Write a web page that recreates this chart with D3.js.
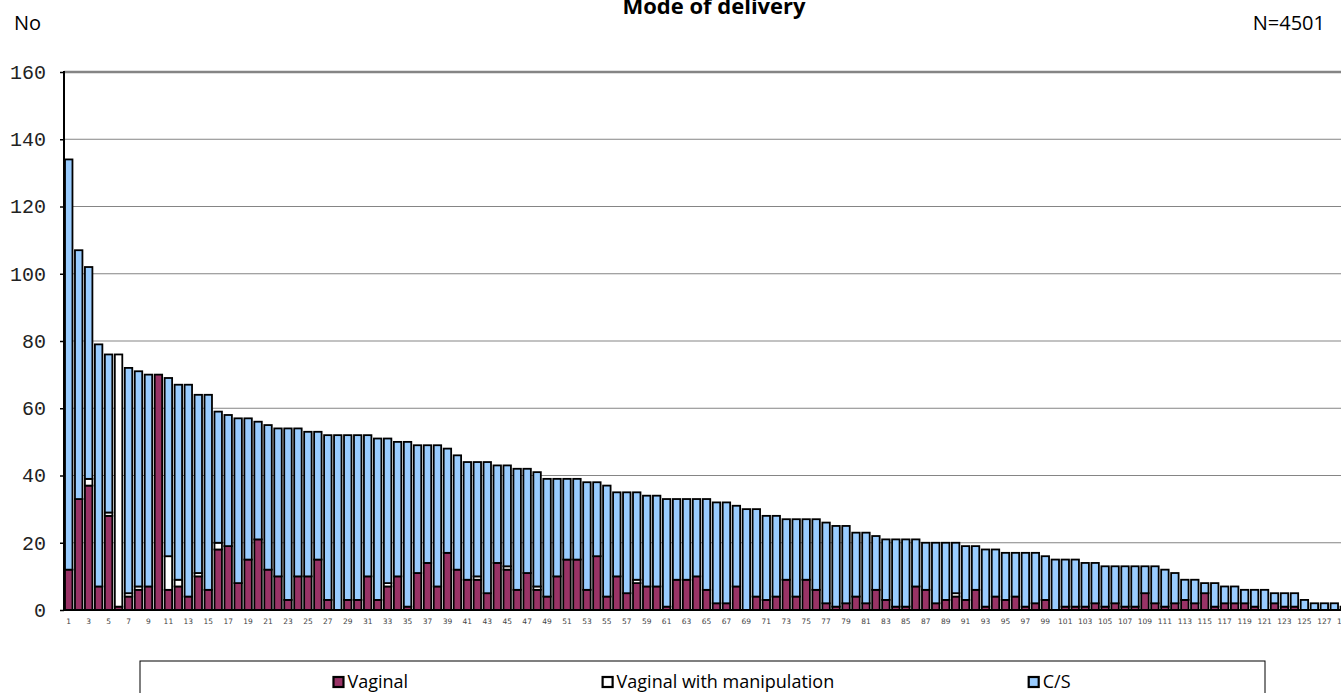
<!DOCTYPE html>
<html>
<head>
<meta charset="utf-8">
<script src="https://cdn.jsdelivr.net/npm/d3@7/dist/d3.min.js"></script>
<style>
  body { margin: 0; overflow: hidden; background: #fff; }
  svg { display: block; }
</style>
</head>
<body>
<div id="chart"></div>
<script>
// bar number 1..129
var categories = d3.range(1, 130);

var vaginal = [12, 33, 37, 7, 28, 1, 4, 6, 7, 70,
  6, 7, 4, 10, 6, 18, 19, 8, 15, 21,
  12, 10, 3, 10, 10, 15, 3, 0, 3, 3,
  10, 3, 7, 10, 1, 11, 14, 7, 17, 12,
  9, 9, 5, 14, 12, 6, 11, 6, 4, 10,
  15, 15, 6, 16, 4, 10, 5, 8, 7, 7,
  1, 9, 9, 10, 6, 2, 2, 7, 0, 4,
  3, 4, 9, 4, 9, 6, 2, 1, 2, 4,
  2, 6, 3, 1, 1, 7, 6, 2, 3, 4,
  3, 6, 1, 4, 3, 4, 1, 2, 3, 0,
  1, 1, 1, 2, 1, 2, 1, 1, 5, 2,
  1, 2, 3, 2, 5, 1, 2, 2, 2, 1,
  0, 2, 1, 1, 0, 0, 0, 0, 0];

var manipulation = [0, 0, 2, 0, 1, 75, 1, 1, 0, 0,
  10, 2, 0, 1, 0, 2, 0, 0, 0, 0,
  0, 0, 0, 0, 0, 0, 0, 0, 0, 0,
  0, 0, 1, 0, 0, 0, 0, 0, 0, 0,
  0, 1, 0, 0, 1, 0, 0, 1, 0, 0,
  0, 0, 0, 0, 0, 0, 0, 1, 0, 0,
  0, 0, 0, 0, 0, 0, 0, 0, 0, 0,
  0, 0, 0, 0, 0, 0, 0, 0, 0, 0,
  0, 0, 0, 0, 0, 0, 0, 0, 0, 1,
  0, 0, 0, 0, 0, 0, 0, 0, 0, 0,
  0, 0, 0, 0, 0, 0, 0, 0, 0, 0,
  0, 0, 0, 0, 0, 0, 0, 0, 0, 0,
  0, 0, 0, 0, 0, 0, 0, 0, 0];

var cesarean = [122, 74, 63, 72, 47, 0, 67, 64, 63, 0,
  53, 58, 63, 53, 58, 39, 39, 49, 42, 35,
  43, 44, 51, 44, 43, 38, 49, 52, 49, 49,
  42, 48, 43, 40, 49, 38, 35, 42, 31, 34,
  35, 34, 39, 29, 30, 36, 31, 34, 35, 29,
  24, 24, 32, 22, 33, 25, 30, 26, 27, 27,
  32, 24, 24, 23, 27, 30, 30, 24, 30, 26,
  25, 24, 18, 23, 18, 21, 24, 24, 23, 19,
  21, 16, 18, 20, 20, 14, 14, 18, 17, 15,
  16, 13, 17, 14, 14, 13, 16, 15, 13, 15,
  14, 14, 13, 12, 12, 11, 12, 12, 8, 11,
  11, 9, 6, 7, 3, 7, 5, 5, 4, 5,
  6, 3, 4, 4, 3, 2, 2, 2, 1];

var seriesNames = ["Vaginal", "Vaginal with manipulation", "C/S"];
var seriesColors = ["#993366", "#ffffff", "#99ccff"];
var yTicks = [0, 20, 40, 60, 80, 100, 120, 140, 160];
var xTickLabels = categories.filter(function(c) { return c % 2 == 1; });

function createChart()
{
  var W = 1341, H = 693;
  var plot = {left: 64, right: 1349, top: 72, bottom: 610};

  var svg = d3.select("#chart").append("svg")
    .attr("width", W)
    .attr("height", H);

  var x = d3.scaleBand().domain(categories).range([plot.left, plot.right])
    .paddingInner(0.25).paddingOuter(0.1);
  var y = d3.scaleLinear().domain([0, 160]).range([plot.bottom, plot.top]);

  // title and corner texts
  svg.append("text")
    .attr("x", 714).attr("y", 14)
    .attr("text-anchor", "middle")
    .style("font-family", "'Open Sans', sans-serif")
    .style("font-weight", "bold")
    .style("font-size", "22px")
    .text("Mode of delivery");

  svg.append("text")
    .attr("x", 14).attr("y", 30)
    .style("font-family", "'Open Sans', sans-serif")
    .style("font-size", "20px")
    .text("No");

  svg.append("text")
    .attr("x", 1325).attr("y", 30)
    .attr("text-anchor", "end")
    .style("font-family", "'Open Sans', sans-serif")
    .style("font-size", "20px")
    .text("N=4501");

  // gridlines
  svg.append("g").selectAll("line")
    .data(yTicks.filter(function(t) { return t > 0; }))
    .enter().append("line")
    .attr("x1", plot.left).attr("x2", plot.right)
    .attr("y1", function(d) { return y(d); })
    .attr("y2", function(d) { return y(d); })
    .attr("stroke", "#858585")
    .attr("stroke-width", function(d) { return d == 160 ? 2.5 : 1; });

  // stacked bars
  var rows = categories.map(function(c, i) {
    return {cat: c, v: vaginal[i], m: manipulation[i], c: cesarean[i]};
  });
  var layers = d3.stack().keys(["v", "m", "c"])(rows);

  svg.append("g").selectAll("g")
    .data(layers)
    .enter().append("g")
    .attr("fill", function(d, i) { return seriesColors[i]; })
    .selectAll("rect")
    .data(function(d) { return d.filter(function(p) { return p[1] > p[0]; }); })
    .enter().append("rect")
    .attr("x", function(d) { return x(d.data.cat); })
    .attr("width", x.bandwidth())
    .attr("y", function(d) { return y(d[1]); })
    .attr("height", function(d) { return y(d[0]) - y(d[1]); })
    .attr("stroke", "#000")
    .attr("stroke-width", 1.8);

  // axes
  var yAxis = svg.append("g")
    .attr("transform", "translate(" + plot.left + ",0)")
    .call(d3.axisLeft(y).tickValues(yTicks).tickSize(4).tickPadding(14));
  yAxis.select(".domain").remove();
  yAxis.selectAll("line").attr("stroke", "#000").attr("stroke-width", 1.5);
  yAxis.selectAll("text")
    .style("font-family", "'Liberation Mono', monospace")
    .style("font-size", "20px")
    .attr("fill", "#222");

  var xAxis = svg.append("g")
    .attr("transform", "translate(0," + plot.bottom + ")")
    .call(d3.axisBottom(x).tickValues(xTickLabels).tickSize(0).tickPadding(9));
  xAxis.select(".domain").remove();
  xAxis.selectAll("text")
    .style("font-family", "'DejaVu Sans', sans-serif")
    .style("font-size", "7.5px")
    .attr("fill", "#444");

  svg.append("line")
    .attr("x1", plot.left).attr("x2", plot.left)
    .attr("y1", plot.top - 1).attr("y2", plot.bottom + 1)
    .attr("stroke", "#000").attr("stroke-width", 2);
  svg.append("line")
    .attr("x1", plot.left).attr("x2", plot.right)
    .attr("y1", plot.bottom).attr("y2", plot.bottom)
    .attr("stroke", "#000").attr("stroke-width", 2);

  // legend
  var lg = {x: 140, y: 661, w: 1125, h: 44};
  svg.append("rect")
    .attr("x", lg.x).attr("y", lg.y)
    .attr("width", lg.w).attr("height", lg.h)
    .attr("fill", "#fff").attr("stroke", "#000").attr("stroke-width", 1);

  var items = svg.append("g").selectAll("g")
    .data(seriesNames)
    .enter().append("g");
  items.append("rect")
    .attr("x", 1).attr("y", 16)
    .attr("width", 10).attr("height", 10)
    .attr("fill", function(d, i) { return seriesColors[i]; })
    .attr("stroke", "#000").attr("stroke-width", 2.2);
  items.append("text")
    .attr("x", 15).attr("y", 27)
    .style("font-family", "'Open Sans', sans-serif")
    .style("font-size", "18px")
    .text(function(d) { return d; });

  // spread entries evenly across the legend box
  var widths = [];
  items.each(function() { widths.push(15 + d3.select(this).select("text").node().getComputedTextLength()); });
  var gap = (lg.w - d3.sum(widths)) / (widths.length + 1);
  var pos = lg.x + gap;
  items.attr("transform", function(d, i) {
    var t = "translate(" + (pos - 1) + "," + lg.y + ")";
    pos += widths[i] + gap;
    return t;
  });
}

createChart();
</script>
</body>
</html>
